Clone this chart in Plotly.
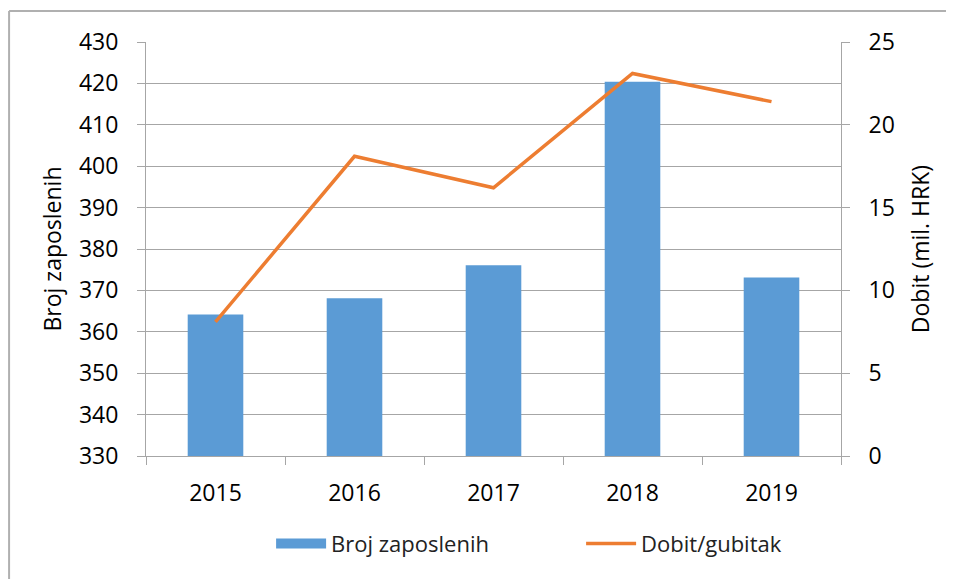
import plotly.graph_objects as go

years = ["2015", "2016", "2017", "2018", "2019"]
employees = [364.2, 368.1, 376.1, 420.4, 373.1]
profit = [8.1, 18.1, 16.2, 23.1, 21.4]

FONT = "Open Sans"
GRID = "#a6a6a6"
BLUE = "#5B9BD5"
ORANGE = "#ED7D31"

fig = go.Figure()
fig.add_trace(go.Bar(
    x=years, y=employees, name="Broj zaposlenih",
    marker=dict(color=BLUE, line=dict(width=0)),
    yaxis="y", showlegend=False,
))
# legend proxy giving a wide rectangular swatch for the bar series
fig.add_trace(go.Scatter(
    x=[years[0]], y=[None], name="Broj zaposlenih", mode="lines",
    line=dict(color=BLUE, width=14), yaxis="y", hoverinfo="skip",
))
fig.add_trace(go.Scatter(
    x=years, y=profit, name="Dobit/gubitak", mode="lines",
    line=dict(color=ORANGE, width=3.5),
    yaxis="y2",
))

fig.update_layout(
    width=946, height=571,
    margin=dict(l=138, r=113, t=34, b=123),
    paper_bgcolor="white", plot_bgcolor="white",
    font=dict(family=FONT, size=23, color="#000000"),
    bargap=0.6,
    showlegend=True,
    legend=dict(
        orientation="h", x=0.18, xanchor="left", y=-0.212, yanchor="middle",
        font=dict(size=22, color="#222"), itemwidth=50, entrywidth=245,
        traceorder="normal",
    ),
    xaxis=dict(
        type="category", showgrid=False, showline=True, linecolor=GRID, linewidth=1,
        ticks="outside", ticklen=8, tickcolor=GRID, tickson="boundaries",
        ticklabelstandoff=16, zeroline=False,
    ),
    yaxis=dict(
        range=[330, 430], dtick=10, showgrid=True, gridcolor=GRID, gridwidth=1,
        showline=True, linecolor=GRID, linewidth=1, ticks="outside", ticklen=8,
        tickcolor=GRID, ticklabelstandoff=14, zeroline=False,
        title=dict(text="Broj zaposlenih", standoff=10, font=dict(size=23)),
    ),
    yaxis2=dict(
        range=[0, 25], dtick=5, overlaying="y", side="right", showgrid=False,
        showline=True, linecolor=GRID, linewidth=1, ticks="outside", ticklen=8,
        tickcolor=GRID, ticklabelstandoff=14, zeroline=False,
        title=dict(text="Dobit (mil. HRK)", standoff=18, font=dict(size=23)),
    ),
    shapes=[
        dict(type="line", xref="paper", yref="paper", x0=-0.197, x1=1.2,
             y0=1.0749, y1=1.0749, line=dict(color="#b0b0b0", width=2)),
        dict(type="line", xref="paper", yref="paper", x0=-0.197, x1=-0.197,
             y0=1.0749, y1=-0.35, line=dict(color="#b0b0b0", width=2)),
    ],
)

fig.write_html("out.html")
